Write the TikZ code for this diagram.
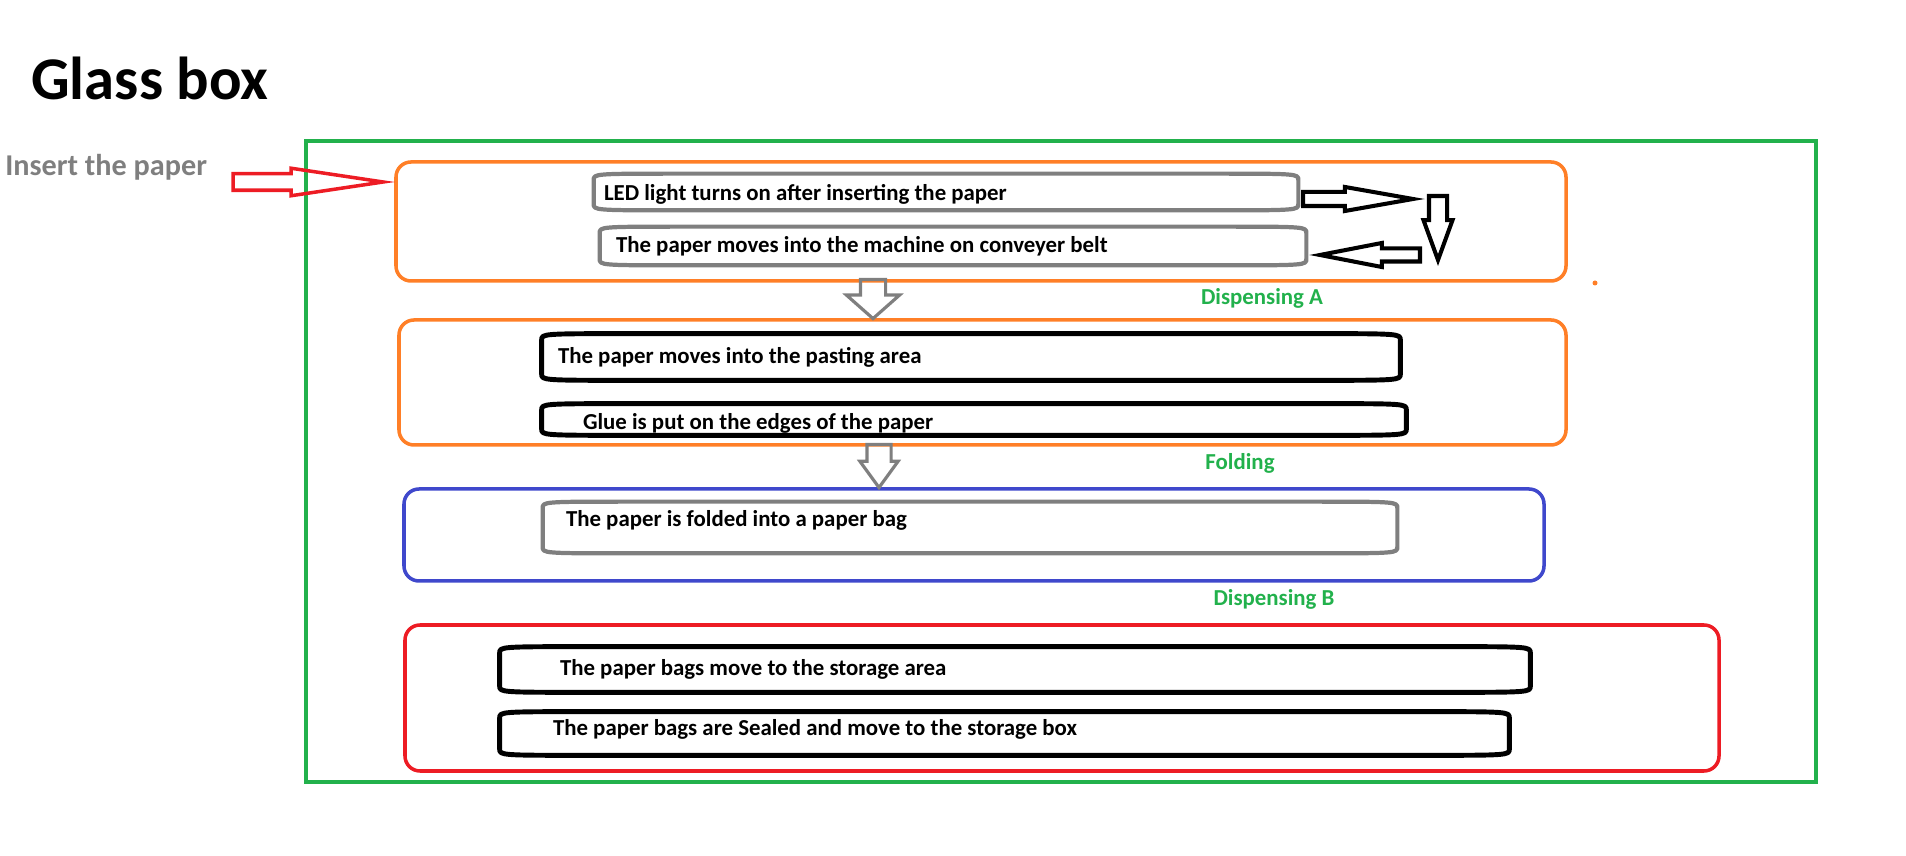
\documentclass[tikz,border=0pt]{standalone}
\usepackage{fontspec}
\setmainfont{Carlito}
\usepackage{tikz}
\usetikzlibrary{positioning, shapes.arrows}

\definecolor{pgreen}{RGB}{34,177,76}
\definecolor{porange}{RGB}{255,127,39}
\definecolor{pblue}{RGB}{63,72,204}
\definecolor{pred}{RGB}{237,28,36}
\definecolor{pgray}{RGB}{127,127,127}

% outline of a box with flat, flared ends
\newcommand{\capsuleoutline}[2]{%
  \draw[capline, #2] ([yshift=-0.13cm]#1.north west)
    .. controls (#1.north west) .. ([xshift=1.8cm]#1.north west)
    -- ([xshift=-1.8cm]#1.north east)
    .. controls (#1.north east) .. ([yshift=-0.13cm]#1.north east)
    -- ([yshift=0.13cm]#1.south east)
    .. controls (#1.south east) .. ([xshift=-1.8cm]#1.south east)
    -- ([xshift=1.8cm]#1.south west)
    .. controls (#1.south west) .. ([yshift=0.13cm]#1.south west)
    -- cycle;}

\tikzset{
  stage/.style={draw, line width=2pt, rounded corners=0.3cm, inner sep=0pt},
  capsule/.style={inner sep=0pt},
  capline/.style={line width=2.4pt, line join=round},
  boxtext/.style={inner sep=0pt, font=\fontsize{13}{15}\selectfont\bfseries},
  steplabel/.style={inner sep=0pt, text=pgreen, font=\fontsize{13}{15}\selectfont\bfseries},
  blockarrow/.style n args={4}{single arrow, draw, inner sep=0pt, inner ysep=#2,
    minimum width=0pt, minimum height=#1, single arrow head extend=#3,
    single arrow tip angle=#4, single arrow head indent=0pt}
}

\begin{document}
\begin{tikzpicture}
  \useasboundingbox (0,0) rectangle (38.12,17.12);

  \node[anchor=base west, inner sep=0pt, font=\fontsize{34.5}{40}\selectfont\bfseries] (title) at (0.62,15.12) {Glass box};
  \node[anchor=west, inner sep=0pt, text=pgray, font=\fontsize{17.2}{20}\selectfont\bfseries] (insert) at (0.1,13.78) {Insert the paper};

  % glass box and stages
  \node[draw=pgreen, line width=2pt, minimum width=30.2cm, minimum height=12.82cm, inner sep=0pt] (glass) at (21.22,7.89) {};
  \node[stage, draw=porange, minimum width=23.4cm, minimum height=2.38cm] (stageA) at (19.62,12.69) {};
  \node[stage, draw=porange, minimum width=23.34cm, minimum height=2.5cm] (stageB) at (19.65,9.47) {};
  \node[stage, draw=pblue, minimum width=22.8cm, minimum height=1.84cm] (stageC) at (19.48,6.42) {};
  \node[stage, draw=pred, minimum width=26.28cm, minimum height=2.92cm] (stageD) at (21.24,3.16) {};

  % steps
  \node[capsule, minimum width=14.08cm, minimum height=0.72cm] (led) at (18.92,13.28) {};
  \node[capsule, minimum width=14.12cm, minimum height=0.76cm] (belt) at (19.06,12.2) {};
  \node[capsule, minimum width=17.16cm, minimum height=0.92cm] (paste) at (19.42,9.98) {};
  \node[capsule, minimum width=17.28cm, minimum height=0.62cm] (glue) at (19.48,8.73) {};
  \node[capsule, minimum width=17.08cm, minimum height=1.02cm] (fold) at (19.4,6.57) {};
  \node[capsule, minimum width=20.6cm, minimum height=0.9cm] (store) at (20.3,3.73) {};
  \node[capsule, minimum width=20.18cm, minimum height=0.86cm] (seal) at (20.09,2.45) {};
  \capsuleoutline{led}{pgray}
  \capsuleoutline{belt}{pgray}
  \capsuleoutline{paste}{black, line width=2.8pt}
  \capsuleoutline{glue}{black, line width=2.8pt}
  \capsuleoutline{fold}{pgray}
  \capsuleoutline{store}{black, line width=2.8pt}
  \capsuleoutline{seal}{black, line width=2.8pt}

  \node[boxtext, right=0.2cm of led.west, yshift=-0.04cm] (ledtext) {LED light turns on after inserting the paper};
  \node[boxtext, right=0.32cm of belt.west] (belttext) {The paper moves into the machine on conveyer belt};
  \node[boxtext, right=0.32cm of paste.west] (pastetext) {The paper moves into the pasting area};
  \node[boxtext, right=0.82cm of glue.west, yshift=-0.07cm] (gluetext) {Glue is put on the edges of the paper};
  \node[boxtext, right=0.46cm of fold.west, yshift=0.15cm] (foldtext) {The paper is folded into a paper bag};
  \node[boxtext, right=1.2cm of store.west] (storetext) {The paper bags move to the storage area};
  \node[boxtext, right=1.06cm of seal.west, yshift=0.09cm] (sealtext) {The paper bags are Sealed and move to the storage box};

  % stage names
  \node[steplabel] (dispA) at (25.24,11.16) {Dispensing A};
  \node[steplabel] (folding) at (24.8,7.86) {Folding};
  \node[steplabel] (dispB) at (25.48,5.13) {Dispensing B};

  % hollow arrows
  \node[blockarrow={3.0cm}{0.13cm}{0.11cm}{17}, draw=pred, line width=2pt, anchor=tip] (feed) at (7.9,13.48) {};
  \node[blockarrow={2.2cm}{0.1cm}{0.1cm}{20}, line width=2.3pt, anchor=tail] (turnR) at (26.02,13.14) {};
  \node[blockarrow={1.28cm}{0.14cm}{0.11cm}{40}, line width=2.3pt, anchor=tail, rotate=-90] (turnD) at (28.76,13.24) {};
  \node[blockarrow={2.0cm}{0.09cm}{0.11cm}{22}, line width=2.3pt, anchor=tail, rotate=180] (turnL) at (28.44,12.02) {};
  \node[blockarrow={0.78cm}{0.22cm}{0.28cm}{97}, draw=pgray, line width=1.8pt, anchor=tail, rotate=-90] (dropA) at (17.46,11.56) {};
  \node[blockarrow={0.86cm}{0.21cm}{0.14cm}{72}, draw=pgray, line width=1.8pt, anchor=tail, rotate=-90] (dropB) at (17.58,8.26) {};

  \fill[porange] (31.9,11.46) circle (0.05);
\end{tikzpicture}
\end{document}
